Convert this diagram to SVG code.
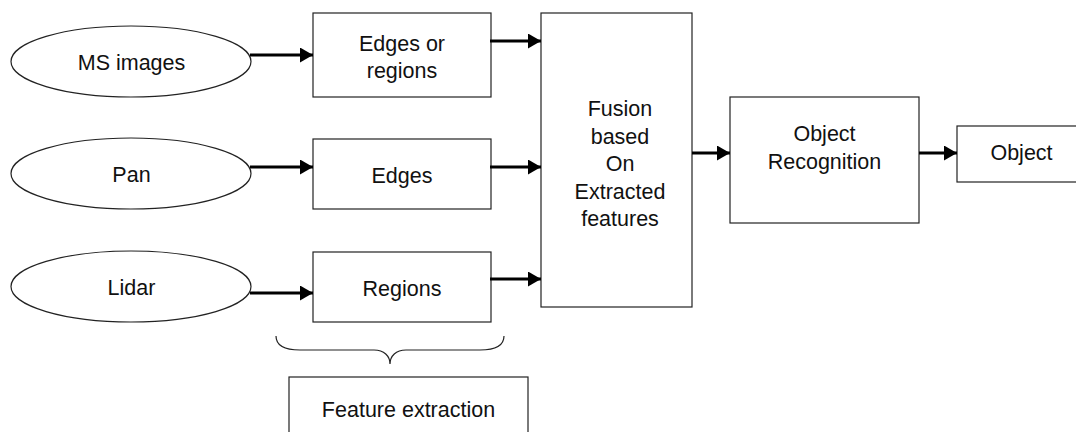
<svg xmlns="http://www.w3.org/2000/svg" width="1076" height="432" viewBox="0 0 1076 432">
  <style>
    .shape { fill: #ffffff; stroke: #222222; stroke-width: 1.2; }
    .label { font-family: "Liberation Sans", Arial, sans-serif; font-size: 21.5px; fill: #111111; text-anchor: middle; }
    .flow { stroke: #000000; stroke-width: 3.2; fill: none; marker-end: url(#head); }
    .brace { stroke: #222222; stroke-width: 1.2; fill: none; }
  </style>
  <defs>
    <marker id="head" markerUnits="userSpaceOnUse" markerWidth="14" markerHeight="16" refX="13" refY="7.5" orient="auto">
      <path d="M0,0 L13,7.5 L0,15 z" fill="#000000"/>
    </marker>
  </defs>
  <rect width="1076" height="432" fill="#ffffff"/>

  <!-- inputs -->
  <g id="ms-images">
    <ellipse class="shape" cx="131" cy="61.5" rx="120" ry="35.5"/>
    <text class="label" x="131.5" y="69.5">MS images</text>
  </g>
  <g id="pan">
    <ellipse class="shape" cx="131" cy="173.5" rx="120" ry="35.5"/>
    <text class="label" x="131.5" y="182">Pan</text>
  </g>
  <g id="lidar">
    <ellipse class="shape" cx="131" cy="286.5" rx="120" ry="35.5"/>
    <text class="label" x="131.5" y="295">Lidar</text>
  </g>

  <!-- extracted features -->
  <g id="edges-or-regions">
    <rect class="shape" x="313" y="13" width="178" height="84"/>
    <text class="label" x="402" y="50.5">Edges or</text>
    <text class="label" x="402" y="78">regions</text>
  </g>
  <g id="edges">
    <rect class="shape" x="313" y="139" width="178" height="70"/>
    <text class="label" x="402" y="182.5">Edges</text>
  </g>
  <g id="regions">
    <rect class="shape" x="313" y="252" width="178" height="70"/>
    <text class="label" x="402" y="295.5">Regions</text>
  </g>

  <!-- fusion and recognition -->
  <g id="fusion">
    <rect class="shape" x="541" y="13" width="151" height="294"/>
    <text class="label" x="620" y="116">Fusion</text>
    <text class="label" x="620" y="143.5">based</text>
    <text class="label" x="620" y="171">On</text>
    <text class="label" x="620" y="198.5">Extracted</text>
    <text class="label" x="620" y="226">features</text>
  </g>
  <g id="object-recognition">
    <rect class="shape" x="730" y="97" width="189" height="126"/>
    <text class="label" x="824.5" y="141">Object</text>
    <text class="label" x="824.5" y="169">Recognition</text>
  </g>
  <g id="object">
    <rect class="shape" x="957" y="126" width="130" height="56"/>
    <text class="label" x="1021.5" y="159.5">Object</text>
  </g>

  <!-- grouping brace and caption -->
  <g id="feature-extraction">
    <path class="brace" d="M276,336 C276,346 284,350 300,350 L374,350 C384,350 390,356 390,364 C390,356 396,350 406,350 L480,350 C496,350 504,346 504,336"/>
    <rect class="shape" x="289" y="377" width="239" height="70"/>
    <text class="label" x="408.5" y="416.5">Feature extraction</text>
  </g>

  <!-- connectors -->
  <g id="connectors">
    <line class="flow" x1="250" y1="55" x2="313" y2="55"/>
    <line class="flow" x1="250" y1="167" x2="313" y2="167"/>
    <line class="flow" x1="250" y1="293" x2="313" y2="293"/>
    <line class="flow" x1="490" y1="41" x2="541" y2="41"/>
    <line class="flow" x1="490" y1="167" x2="541" y2="167"/>
    <line class="flow" x1="490" y1="279" x2="541" y2="279"/>
    <line class="flow" x1="692" y1="153" x2="730" y2="153"/>
    <line class="flow" x1="919" y1="153" x2="957" y2="153"/>
  </g>
</svg>
